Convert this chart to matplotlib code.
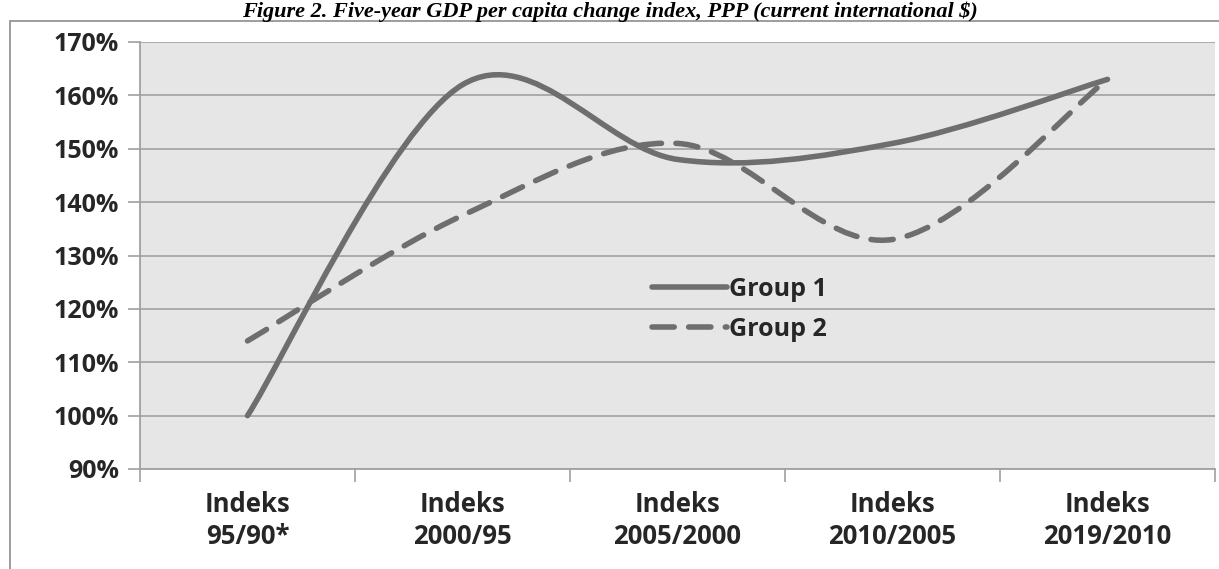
import matplotlib.pyplot as plt
from matplotlib.path import Path
from matplotlib.patches import PathPatch, Rectangle
from matplotlib.lines import Line2D
from matplotlib.ticker import FuncFormatter, MultipleLocator

categories = ["Indeks\n95/90*", "Indeks\n2000/95", "Indeks\n2005/2000",
              "Indeks\n2010/2005", "Indeks\n2019/2010"]
group1 = [100, 162, 148, 151, 163]
group2 = [114, 137.5, 151, 133, 163]
series_names = ["Group 1", "Group 2"]
title = "Figure 2. Five-year GDP per capita change index, PPP (current international $)"

LINE_COL = "#6e6e6e"
TICK_FONT = "Open Sans"


def smooth_path(ys):
    # Excel style smoothed line: cubic bezier with catmull-rom control points
    xs = list(range(len(ys)))
    pts = list(zip(xs, ys))
    verts = [pts[0]]
    codes = [Path.MOVETO]
    n = len(pts)
    for i in range(n - 1):
        p0 = pts[max(i - 1, 0)]
        p1 = pts[i]
        p2 = pts[i + 1]
        p3 = pts[min(i + 2, n - 1)]
        c1 = (p1[0] + (p2[0] - p0[0]) / 6, p1[1] + (p2[1] - p0[1]) / 6)
        c2 = (p2[0] - (p3[0] - p1[0]) / 6, p2[1] - (p3[1] - p1[1]) / 6)
        verts += [c1, c2, p2]
        codes += [Path.CURVE4] * 3
    return Path(verts, codes)


fig = plt.figure(figsize=(12.19, 5.69), dpi=100)
ax = fig.add_axes([140 / 1219, 1 - 469 / 569, 1075 / 1219, 427 / 569])
ax.set_facecolor("#e6e6e6")

# outer chart border
fig.patches.append(Rectangle((10 / 1219, -0.1), 1.2, 1 - 21 / 569 + 0.1,
                             transform=fig.transFigure, fill=False,
                             edgecolor="#8c8c8c", linewidth=1.2))

ax.set_xlim(-0.5, len(categories) - 0.5)
ax.set_ylim(90, 170)
ax.yaxis.set_major_locator(MultipleLocator(10))
ax.yaxis.set_major_formatter(FuncFormatter(lambda v, p: f"{v:.0f}%"))
ax.grid(axis="y", color="#a6a6a6", linewidth=1.3)
ax.set_axisbelow(True)

for s in ["top", "right"]:
    ax.spines[s].set_visible(False)
ax.spines["left"].set_color("#a0a0a0")
ax.spines["bottom"].set_color("#a0a0a0")
ax.spines["left"].set_linewidth(1.3)
ax.spines["bottom"].set_linewidth(1.3)

ax.set_xticks([i - 0.5 for i in range(len(categories) + 1)])
ax.set_xticklabels([])
ax.set_xticks(range(len(categories)), minor=True)
ax.set_xticklabels(categories, minor=True, fontsize=18.5, fontweight="bold",
                   family=TICK_FONT, color="#262626", linespacing=1.25)
ax.tick_params(axis="x", which="major", length=9, color="#a0a0a0", width=1.2)
ax.tick_params(axis="x", which="minor", length=0, pad=16)
ax.tick_params(axis="y", length=9, color="#a0a0a0", width=1.2, pad=6)
for lab in ax.get_yticklabels():
    lab.set_fontsize(18)
    lab.set_fontweight("bold")
    lab.set_family(TICK_FONT)
    lab.set_color("#262626")

ax.add_patch(PathPatch(smooth_path(group1), fill=False, edgecolor=LINE_COL,
                       linewidth=4, capstyle="round", joinstyle="round"))
ax.add_patch(PathPatch(smooth_path(group2), fill=False, edgecolor=LINE_COL,
                       linewidth=4, linestyle=(0, (4, 2.6)), capstyle="round"))

handles = [Line2D([], [], color=LINE_COL, linewidth=4, solid_capstyle="round"),
           Line2D([], [], color=LINE_COL, linewidth=4, linestyle=(0, (4, 2.6)),
                  dash_capstyle="round")]
leg = ax.legend(handles, series_names, loc="center left",
                bbox_to_anchor=(0.455, 0.373), frameon=False, handlelength=3.0,
                handletextpad=0.1, labelspacing=0.6,
                prop={"family": TICK_FONT, "weight": "bold", "size": 18})
for t in leg.get_texts():
    t.set_color("#262626")

fig.text(0.5, 0.998, title, ha="center", va="top",
         fontsize=16, fontweight="bold", fontstyle="italic",
         family="Liberation Serif")

fig.savefig("out.png", dpi=100)
